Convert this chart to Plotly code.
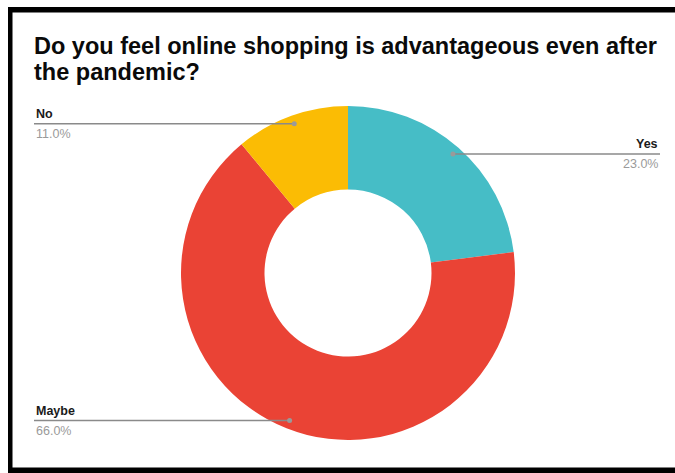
import math
import plotly.graph_objects as go

# ---- data ----
categories = ["Yes", "Maybe", "No"]
values = [23.0, 66.0, 11.0]
colors = ["#46BDC6", "#EA4335", "#FBBC04"]
title_lines = ["Do you feel online shopping is advantageous even after", "the pandemic?"]

W, H = 675, 473

def px(x):
    return x / W

def py(y):
    return 1 - y / H

# pie geometry (pixels)
CX, CY, R = 348, 273, 167
HOLE = 0.5

fig = go.Figure()
fig.add_trace(go.Pie(
    labels=categories,
    values=values,
    marker=dict(colors=colors, line=dict(width=0)),
    hole=HOLE,
    sort=False,
    direction="clockwise",
    rotation=0,
    textinfo="none",
    hoverinfo="label+percent",
    showlegend=False,
    domain=dict(x=[px(CX - R), px(CX + R)], y=[py(CY + R), py(CY - R)]),
))

shapes = []
annotations = []

# leader lines and labels, positioned from the data
total = sum(values)
cum = 0.0
LEFT_X, RIGHT_X = 34, 660
for cat, v in zip(categories, values):
    mid = (cum + v / 2) / total * 2 * math.pi
    cum += v
    dx = 0.95 * R * math.sin(mid)
    dy = -0.95 * R * math.cos(mid)
    dotx, doty = CX + dx, CY + dy
    left = dx < 0
    x_end = LEFT_X if left else RIGHT_X
    shapes.append(dict(type="line", xref="paper", yref="paper",
                       x0=px(dotx), x1=px(x_end), y0=py(doty), y1=py(doty),
                       line=dict(color="#8a8a8a", width=1.5)))
    shapes.append(dict(type="circle", xref="paper", yref="paper",
                       x0=px(dotx - 2.5), x1=px(dotx + 2.5),
                       y0=py(doty + 2.5), y1=py(doty - 2.5),
                       fillcolor="#9a9a9a", line=dict(width=0)))
    anchor = "left" if left else "right"
    annotations.append(dict(xref="paper", yref="paper", x=px(x_end), y=py(doty - 1),
                            text="<b>%s</b>" % cat, showarrow=False,
                            xanchor=anchor, yanchor="bottom",
                            font=dict(family="Liberation Sans, Arial", size=12.5, color="#1a1a1a")))
    annotations.append(dict(xref="paper", yref="paper", x=px(x_end), y=py(doty + 1),
                            text="%.1f%%" % (v / total * 100), showarrow=False,
                            xanchor=anchor, yanchor="top",
                            font=dict(family="Liberation Sans, Arial", size=12.5, color="#9a9a9a")))

# title (two lines)
for i, line in enumerate(title_lines):
    annotations.append(dict(xref="paper", yref="paper", x=px(32), y=py(46 + 26 * i),
                            text="<b>%s</b>" % line, showarrow=False,
                            xanchor="left", yanchor="middle", align="left",
                            font=dict(family="Liberation Sans, Arial", size=23.5, color="#0a0a0a")))

# black frame
for (x0, y0, x1, y1) in [(8, 7, 12.5, 473), (8, 7, 680, 12.5), (8, 467.5, 680, 473)]:
    shapes.append(dict(type="rect", xref="paper", yref="paper",
                       x0=px(x0), x1=px(x1), y0=py(y1), y1=py(y0),
                       fillcolor="#000000", line=dict(width=0), layer="above"))

fig.update_layout(
    width=W, height=H,
    margin=dict(l=0, r=0, t=0, b=0),
    paper_bgcolor="white",
    plot_bgcolor="white",
    shapes=shapes,
    annotations=annotations,
)

fig.write_html("out.html")
